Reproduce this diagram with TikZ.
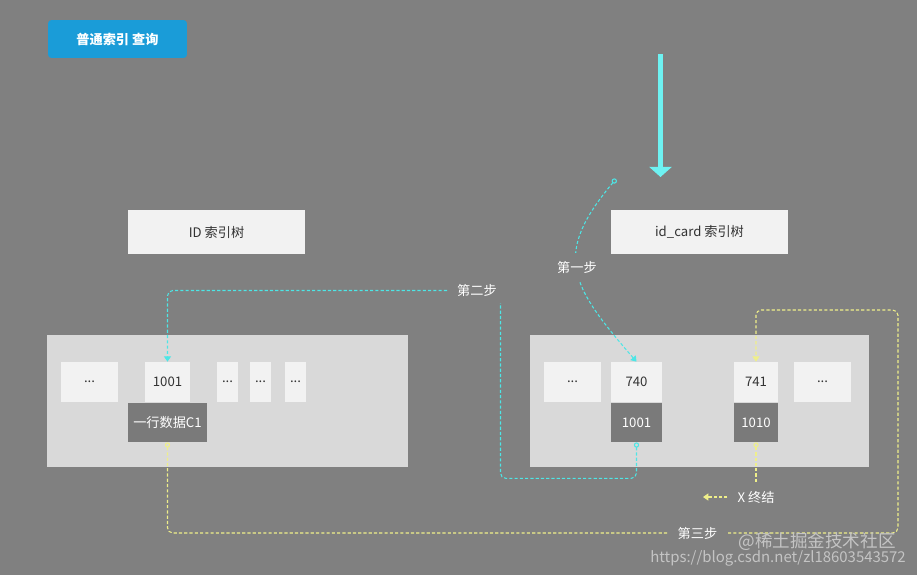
\documentclass[tikz,border=0pt]{standalone}
\usepackage{fontspec}
\setmainfont{Noto Sans CJK SC}
\usetikzlibrary{arrows.meta}
\definecolor{bgGray}{HTML}{808080}
\definecolor{panelGray}{HTML}{D9D9D9}
\definecolor{cellWhite}{HTML}{F2F2F2}
\definecolor{cellDark}{HTML}{7A7A7A}
\definecolor{btnBlue}{HTML}{1A9CD8}
\definecolor{stepCyan}{HTML}{4DE6E6}
\definecolor{arrowCyan}{HTML}{6EF2F2}
\definecolor{stepYellow}{HTML}{EFEF8A}
\definecolor{textDark}{HTML}{333333}
\definecolor{markGray}{HTML}{C4C4C4}

\begin{document}
\begin{tikzpicture}[x = 0.02cm, y = -0.02cm,
		every node/.style = {font = \fontsize{7.5pt}{9pt}\selectfont},
		panel/.style = {fill = panelGray, inner sep = 0pt, minimum height = 2.64cm},
		cell/.style = {fill = cellWhite, text = textDark, inner sep = 0pt, minimum height = 0.8cm},
		datacell/.style = {fill = cellDark, text = white, inner sep = 0pt, minimum height = 0.78cm},
		treetitle/.style = {fill = cellWhite, text = textDark, minimum width = 3.54cm, minimum height = 0.88cm},
		steplabel/.style = {fill = bgGray, text = white, inner xsep = 2pt, inner ysep = 4.5pt},
		cyanline/.style = {stepCyan, line width = 0.6pt, dash pattern = on 1.8pt off 1.2pt},
		yellowline/.style = {stepYellow, line width = 0.6pt, dash pattern = on 1.8pt off 1.2pt},
		tips/.style = {{Circle[open, length = 3pt, width = 3pt]}-{Triangle[length = 3pt, width = 4pt]}}]
		\useasboundingbox (0, 0) rectangle (917, 575);
		\fill [bgGray] (0, 0) rectangle (917, 575);
		%%%%%%%%%%%%%
		\node (query) at (117.5, 39) [fill = btnBlue, text = white, rounded corners = 2pt, minimum width = 2.78cm, minimum height = 0.76cm] {\bfseries 普通索引 查询};
		\node (idtree) at (216.5, 232) [treetitle] {ID 索引树};
		\node (cardtree) at (699.5, 232) [treetitle] {id\_card 索引树};
		\node (lpanel) at (227.5, 401) [panel, minimum width = 7.22cm] {};
		\node (rpanel) at (699.5, 401) [panel, minimum width = 6.78cm] {};
		%%%%%%%%%%%%%
		\node (l1) at (89.5, 382) [cell, minimum width = 1.14cm] {...};
		\node (k1001) at (167.5, 382) [cell, minimum width = 0.9cm] {1001};
		\node (l3) at (227.5, 382) [cell, minimum width = 0.42cm] {...};
		\node (l4) at (260.5, 382) [cell, minimum width = 0.42cm] {...};
		\node (l5) at (295.5, 382) [cell, minimum width = 0.42cm] {...};
		\node (row) at (167.5, 422.5) [datacell, minimum width = 1.58cm] {一行数据C1};
		\node (r1) at (572.5, 382) [cell, minimum width = 1.14cm] {...};
		\node (k740) at (636.5, 382) [cell, minimum width = 1.02cm] {740};
		\node (v1001) at (636.5, 422.5) [datacell, minimum width = 1.02cm] {1001};
		\node (k741) at (756, 382) [cell, minimum width = 0.88cm] {741};
		\node (v1010) at (756, 422.5) [datacell, minimum width = 0.88cm] {1010};
		\node (r4) at (822.5, 382) [cell, minimum width = 1.14cm] {...};
		%%%%%%%%%%%%%
		\coordinate (qin) at (660.5, 54); \coordinate (qout) at (660.5, 177);
		\draw [arrowCyan, line width = 2.8pt, -{Triangle[length = 5.7pt, width = 12.5pt]}] (qin) to (qout);
		\coordinate (s1in) at (616, 179);
		\draw [cyanline, tips] (s1in) .. controls (552, 255) and (570, 285) .. (k740.north);
		\node (s1) at (577, 267) [steplabel] {第一步};
		\coordinate (s2a) at (500.5, 303); \coordinate (s2b) at (447, 290.5);
		\draw [cyanline, rounded corners = 3pt, {Circle[open, length = 3pt, width = 3pt]}-] (v1001.south) -- ++(0, 36) -| (s2a);
		\draw [cyanline, rounded corners = 3pt, -{Triangle[length = 3pt, width = 4pt]}] (s2b) -| (k1001.north);
		\node (s2) at (477, 290.5) [text = white] {第二步};
		\coordinate (s3a) at (667, 533); \coordinate (s3b) at (728, 533); \coordinate (s3c) at (898, 310);
		\draw [yellowline, rounded corners = 3pt, {Circle[open, length = 3pt, width = 3pt]}-] (row.south) |- (s3a);
		\draw [yellowline, rounded corners = 3pt, -{Triangle[length = 3pt, width = 4pt]}] (s3b) -| (s3c) -| (k741.north);
		\node (s3) at (697.5, 533) [text = white] {第三步};
		\coordinate (xstop) at (756, 483);
		\draw [yellowline, {Circle[open, length = 3pt, width = 3pt]}-] (v1010.south) to (xstop);
		\node (xend) at (756, 497) [text = white, inner xsep = 5.6pt] {X 终结};
		\coordinate (xleft) at (703, 497);
		\draw [yellowline, -{Triangle[length = 3pt, width = 4pt]}] (xend.west) to (xleft);
		%%%%%%%%%%%%%
		\node (mark1) at (817, 542) [text = markGray, inner sep = 0pt, font = \fontsize{10pt}{12pt}\selectfont] {@稀土掘金技术社区};
		\node (mark2) at (778, 558) [text = markGray, inner sep = 0pt, font = \fontsize{8.5pt}{10pt}\selectfont] {https://blog.csdn.net/zl18603543572};
\end{tikzpicture}
\end{document}
